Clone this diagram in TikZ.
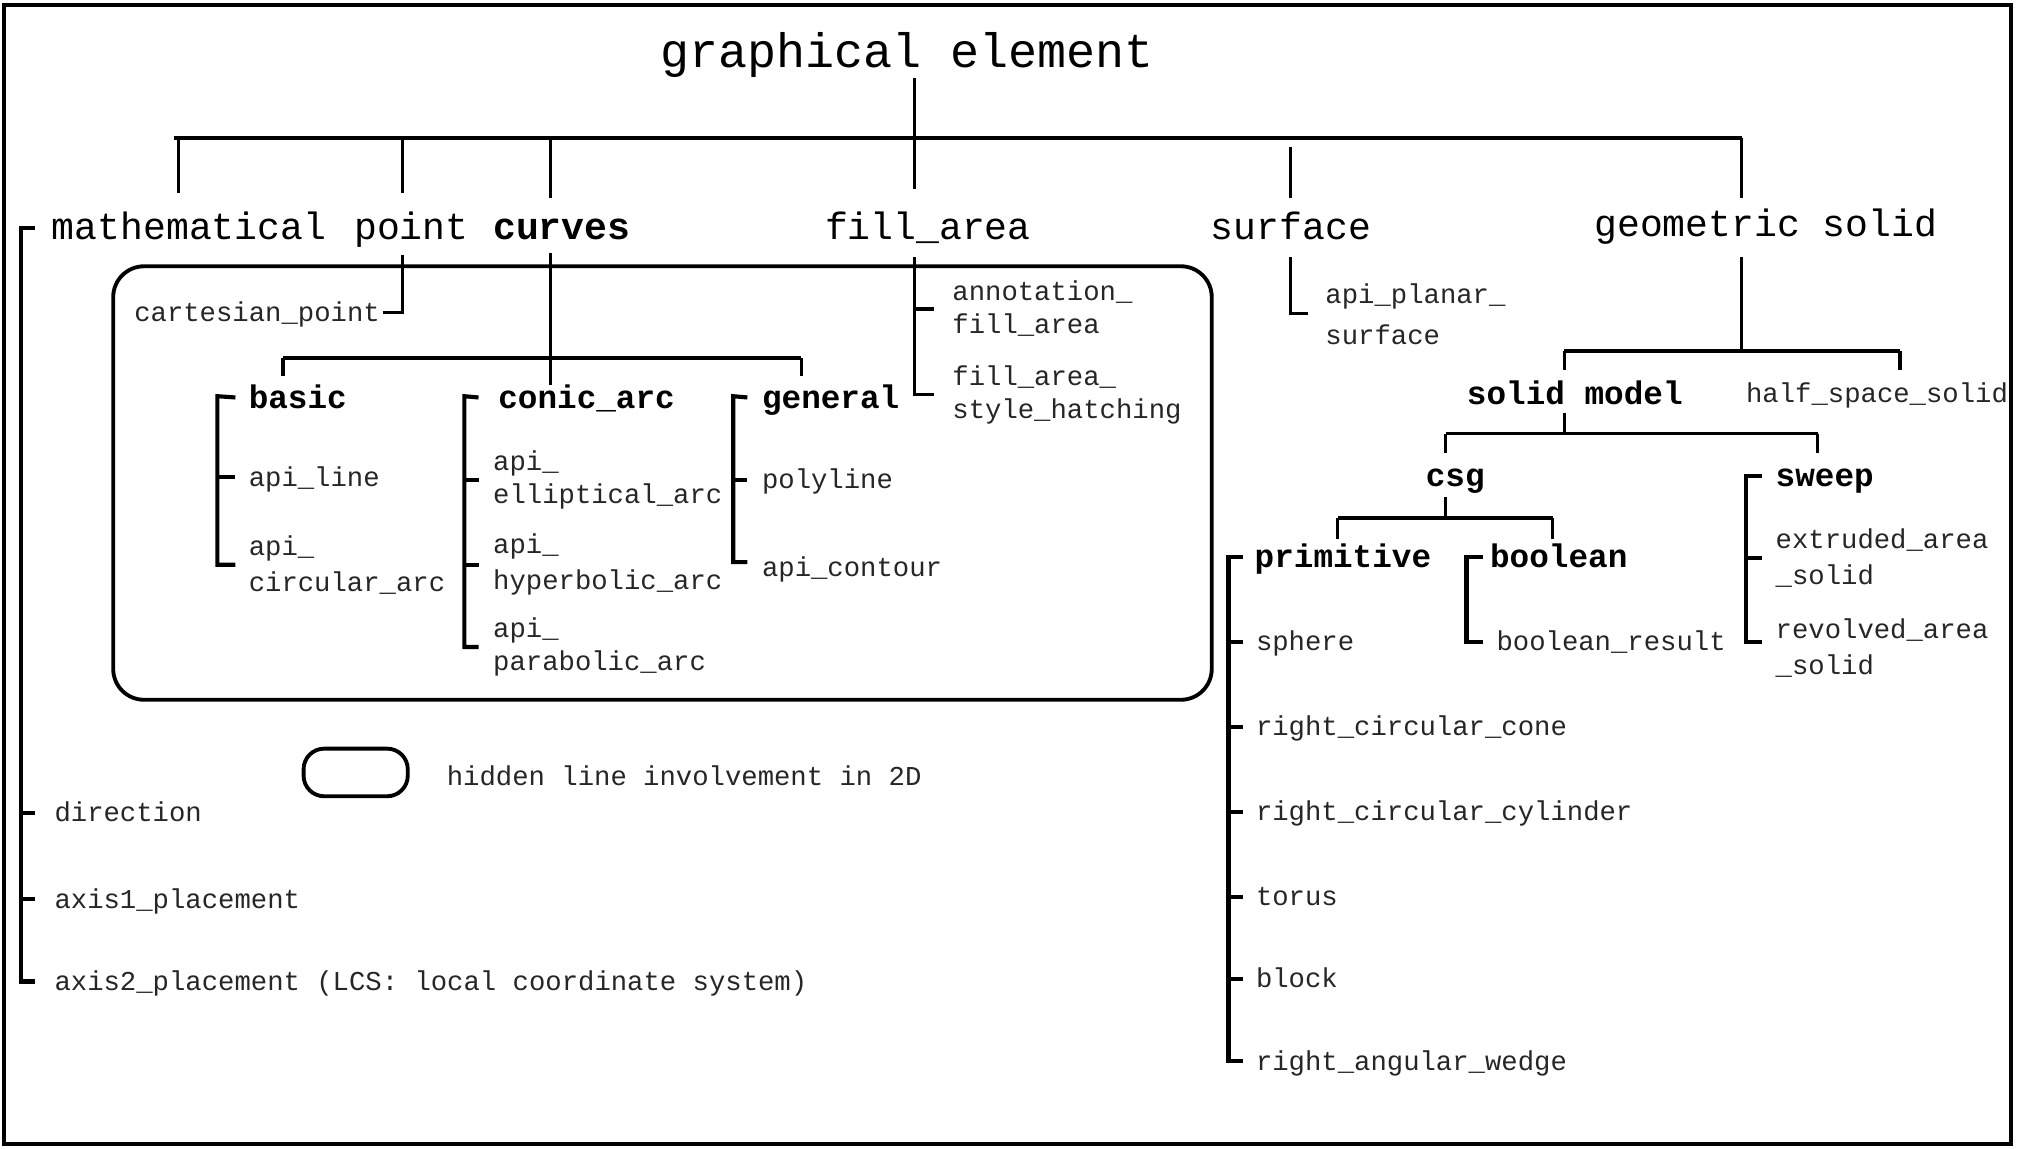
\documentclass[tikz,border=0pt]{standalone}
\usepackage{fontspec}
\newfontfamily\cour{Liberation Mono}
\begin{document}
\begin{tikzpicture}[x=0.5pt,y=-0.5pt,
  conn/.style={line width=1.2pt},
  bus/.style={line width=1.5pt},
  tk/.style={line width=1.6pt},
  lbl/.style={inner sep=0pt,anchor=west,align=left},
  ttl/.style={inner sep=0pt,font=\cour\fontsize{18.8}{22}\selectfont},
  lone/.style={lbl,text height=11pt,text depth=1.5pt,font=\cour\fontsize{14.8}{17}\selectfont},
  lonebf/.style={lbl,text height=11pt,text depth=1.5pt,font=\cour\bfseries\fontsize{14.8}{17}\selectfont},
  subbf/.style={lbl,text height=10pt,text depth=1.6pt,font=\cour\bfseries\fontsize{12.7}{15}\selectfont},
  leaf/.style={lbl,font=\cour\fontsize{10.6}{12.8}\selectfont,text=black!85},
  leafone/.style={leaf,text height=8.2pt,text depth=1.2pt},
  leafwide/.style={lbl,font=\cour\fontsize{10.6}{14}\selectfont,text=black!85},
  leafsurf/.style={lbl,font=\cour\fontsize{10.6}{16}\selectfont,text=black!85}]
\useasboundingbox (0,0) rectangle (1568,893);
\draw[line width=1.6pt] (3,4) rectangle (1563,889);

% ---------- title and top bus
\node[ttl] (title) at (705,43) {graphical element};
\coordinate (t0) at (711,107);
\coordinate (busL) at (135,107);
\coordinate (busR) at (1354,107);
\draw[conn] (title.south -| t0) -- (t0);
\draw[bus] (busL) -- (busR);

% ---------- level 1
\node[lone] (math) at (40,177) {mathematical};
\node[lone] (point) at (275,177) {point};
\node[lonebf] (curves) at (383,177) {curves};
\node[lone] (fill) at (641,177) {fill\_area};
\node[lone] (surf) at (941,177) {surface};
\node[lone] (geo) at (1239,174) {geometric solid};

\coordinate (dm) at (139,107);  \coordinate (dme) at (139,150);
\coordinate (dp) at (313,107);  \coordinate (dpe) at (313,150);
\coordinate (dc) at (428,107);  \coordinate (dce) at (428,154);
\coordinate (df) at (711,107);  \coordinate (dfe) at (711,147);
\coordinate (ds) at (1003,114); \coordinate (dse) at (1003,154);
\coordinate (dg) at (1354,107); \coordinate (dge) at (1354,154);
\draw[conn] (dm) -- (dme);
\draw[conn] (dp) -- (dpe);
\draw[conn] (dc) -- (dce);
\draw[conn] (df) -- (dfe);
\draw[conn] (ds) -- (dse);
\draw[conn] (dg) -- (dge);

% ---------- mathematical
\node[leafone] (dir) at (42,632) {direction};
\node[leafone] (ax1) at (42,699) {axis1\_placement};
\node[leafone] (ax2) at (42,763) {axis2\_placement (LCS: local coordinate system)};
\coordinate (mx) at (16,177);
\draw[tk] ([xshift=-6.5pt]math.west) -- (mx) |- ([xshift=-7.5pt]ax2.west);
\draw[tk] (mx |- dir.west) -- ([xshift=-7.5pt]dir.west);
\draw[tk] (mx |- ax1.west) -- ([xshift=-7.5pt]ax1.west);

% ---------- point
\node[leafone] (cart) at (104,243) {cartesian\_point};
\coordinate (px) at (313,198);
\draw[conn] (px) |- ([xshift=1pt]cart.east);

% ---------- rounded region
\draw[line width=1.5pt,rounded corners=12pt] (88,207) rectangle (942,544);

% ---------- curves
\coordinate (cx) at (428,197);
\coordinate (cxe) at (428,299);
\coordinate (cbL) at (220,278);
\coordinate (cbR) at (623,278);
\draw[conn] (cx) -- (cxe);
\draw[bus] (cbL) -- (cbR);
\draw[conn] (cbL) -- ++(0,14);
\draw[conn] (cbR) -- ++(0,14);

\node[subbf] (basic) at (193,309) {basic};
\node[subbf] (conic) at (387,309) {conic\_arc};
\node[subbf] (general) at (592,309) {general};

\node[leafone] (apiline) at (193,371) {api\_line};
\node[leafwide] (circ) at (193,439) {api\_\\circular\_arc};
\coordinate (bb) at (169,308);
\draw[tk] ([xshift=-5pt]basic.west) -- (bb) |- ([xshift=-5pt]circ.west);
\draw[tk] (bb |- apiline.west) -- ([xshift=-5pt]apiline.west);

\node[leaf] (ell) at (383,373) {api\_\\elliptical\_arc};
\node[leafwide] (hyp) at (383,439) {api\_\\hyperbolic\_arc};
\node[leaf] (par) at (383,503) {api\_\\parabolic\_arc};
\coordinate (cb) at (361,308);
\draw[tk] ([xshift=-7.5pt]conic.west) -- (cb) |- ([xshift=-5.5pt]par.west);
\draw[tk] (cb |- ell.west) -- ([xshift=-5.5pt]ell.west);
\draw[tk] (cb |- hyp.west) -- ([xshift=-5.5pt]hyp.west);

\node[leafone] (poly) at (592,373) {polyline};
\node[leafone] (contour) at (592,441) {api\_contour};
\coordinate (gb) at (570,308);
\draw[tk] ([xshift=-5.5pt]general.west) -- (gb) |- ([xshift=-5.5pt]592,437);
\draw[tk] (gb |- poly.west) -- ([xshift=-5.5pt]poly.west);

% ---------- fill_area
\node[leaf] (annot) at (740,240) {annotation\_\\fill\_area};
\node[leaf] (hatch) at (740,307) {fill\_area\_\\style\_hatching};
\coordinate (fx) at (711,200);
\draw[conn] (fx) |- ([xshift=-7pt]hatch.west);
\draw[tk] (fx |- annot.west) -- ([xshift=-7pt]annot.west);

% ---------- surface
\node[leafsurf] (planar) at (1030,244) {api\_planar\_\\surface};
\coordinate (sx) at (1003,200);
\draw[conn] (sx) |- ([xshift=-6.5pt]planar.west);

% ---------- geometric solid
\coordinate (gx) at (1354,200);
\coordinate (gbus) at (1354,273);
\coordinate (gbL) at (1216,273);
\coordinate (gbR) at (1477,273);
\draw[conn] (gx) -- (gbus);
\draw[bus] (gbL) -- (gbR);
\draw[conn] (gbL) -- ++(0,15);
\draw[conn] (gbR) -- ++(0,15);
\node[subbf] (solid) at (1140,306) {solid model};
\node[leafone] (half) at (1357,306) {half\_space\_solid};

\coordinate (sm) at (1216,321);
\coordinate (smb) at (1216,337);
\coordinate (smL) at (1124,337);
\coordinate (smR) at (1413,337);
\draw[conn] (sm) -- (smb);
\draw[bus] (smL) -- (smR);
\draw[conn] (smL) -- ++(0,15);
\draw[conn] (smR) -- ++(0,15);
\node[subbf] (csg) at (1108,370) {csg};
\node[subbf] (sweep) at (1380,370) {sweep};

\coordinate (cg) at (1124,386);
\coordinate (cgb) at (1124,403);
\coordinate (cgL) at (1040,403);
\coordinate (cgR) at (1207,403);
\draw[conn] (cg) -- (cgb);
\draw[bus] (cgL) -- (cgR);
\draw[conn] (cgL) -- ++(0,16);
\draw[conn] (cgR) -- ++(0,16);
\node[subbf] (prim) at (975,433) {primitive};
\node[subbf] (bool) at (1158,433) {boolean};

% primitive
\node[leafone] (sph) at (976,499) {sphere};
\node[leafone] (cone) at (976,565) {right\_circular\_cone};
\node[leafone] (cyl) at (976,631) {right\_circular\_cylinder};
\node[leafone] (tor) at (976,697) {torus};
\node[leafone] (blk) at (976,761) {block};
\node[leafone] (wedge) at (976,825) {right\_angular\_wedge};
\coordinate (pb) at (955,433);
\draw[tk] ([xshift=-4.5pt]prim.west) -- (pb) |- ([xshift=-5pt]wedge.west);
\foreach \n in {sph,cone,cyl,tor,blk}
  \draw[tk] (pb |- \n.west) -- ([xshift=-5pt]\n.west);

% boolean
\node[leafone] (bres) at (1163,499) {boolean\_result};
\coordinate (bbx) at (1140,433);
\draw[tk] ([xshift=-2.5pt]bool.west) -- (bbx) |- ([xshift=-5pt]bres.west);

% sweep
\node[leafwide] (extr) at (1380,434) {extruded\_area\\\_solid};
\node[leafwide] (rev) at (1380,504) {revolved\_area\\\_solid};
\coordinate (swb) at (1357,370);
\draw[tk] ([xshift=-5pt]sweep.west) -- (swb) |- ([xshift=-5pt]1380,499);
\draw[tk] (swb |- extr.west) -- ([xshift=-5pt]extr.west);

% ---------- legend
\node[draw,line width=1.5pt,rounded corners=8pt,minimum width=40.5pt,minimum height=18.5pt,inner sep=0pt] (legend) at (276.5,600.5) {};
\node[leafone] (legtext) at (347,604) {hidden line involvement in 2D};
\end{tikzpicture}
\end{document}
